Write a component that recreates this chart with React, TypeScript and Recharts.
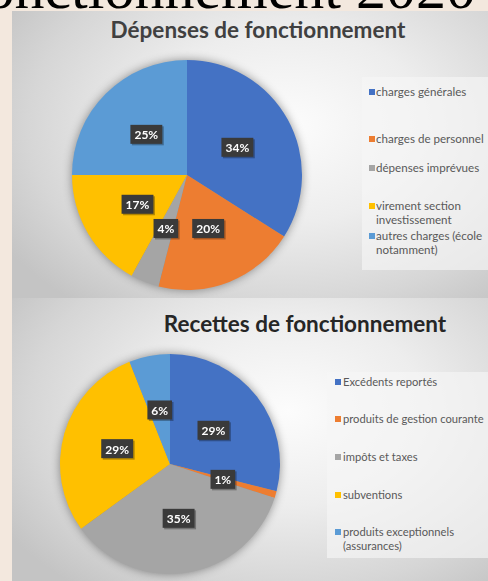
import React from "react";
import { PieChart, Pie, Cell, Legend } from "recharts";

const depensesCategories = [
  "charges générales",
  "charges de personnel",
  "dépenses imprévues",
  "virement section investissement",
  "autres charges (école notamment)",
];
const depensesValues = [34, 20, 4, 17, 25];
const depensesLegendLines = [
  ["charges générales"],
  ["charges de personnel"],
  ["dépenses imprévues"],
  ["virement section", "investissement"],
  ["autres charges (école", "notamment)"],
];

const recettesCategories = [
  "Excédents reportés",
  "produits de gestion courante",
  "impôts et taxes",
  "subventions",
  "produits exceptionnels (assurances)",
];
const recettesValues = [29, 1, 35, 29, 6];
const recettesLegendLines = [
  ["Excédents reportés"],
  ["produits de gestion courante"],
  ["impôts et taxes"],
  ["subventions"],
  ["produits exceptionnels", "(assurances)"],
];

const COLORS = ["#4472C4", "#ED7D31", "#A5A5A5", "#FFC000", "#5B9BD5"];

const depensesData = depensesCategories.map((name, i) => ({ name, value: depensesValues[i] }));
const recettesData = recettesCategories.map((name, i) => ({ name, value: recettesValues[i] }));

const RAD = Math.PI / 180;
const FONT = "Lato, 'Open Sans', sans-serif";
const NO_MARGIN = { top: 0, right: 0, bottom: 0, left: 0 };

const renderLabel = (props: any) => {
  const { cx, cy, midAngle, outerRadius, percent } = props;
  const r = outerRadius * 0.5;
  const x = cx + r * Math.cos(-midAngle * RAD);
  const y = cy + r * Math.sin(-midAngle * RAD);
  const txt = `${Math.round(percent * 100)}%`;
  const w = txt.length * 7.3 + 10;
  const h = 19;
  return (
    <g>
      <rect x={x - w / 2 + 1.5} y={y - h / 2 + 1.5} width={w} height={h} fill="rgba(0,0,0,0.3)" />
      <rect x={x - w / 2} y={y - h / 2} width={w} height={h} fill="#3a3a3a" />
      <text
        x={x}
        y={y + 0.5}
        fill="#ffffff"
        textAnchor="middle"
        dominantBaseline="central"
        fontFamily={FONT}
        fontWeight={700}
        fontSize={12}
      >
        {txt}
      </text>
    </g>
  );
};

const makeLegend = (lines: string[][], tops: number[], boxStyle: any) => () => (
  <div
    style={{
      position: "relative",
      background: "rgba(246,246,246,0.65)",
      fontFamily: FONT,
      fontSize: boxStyle.fontSize,
      color: "#595959",
      width: boxStyle.width,
      height: boxStyle.height,
    }}
  >
    {lines.map((ls, i) => (
      <div key={i} style={{ position: "absolute", left: 0, top: tops[i] - 7, lineHeight: "14px", whiteSpace: "nowrap" }}>
        <span
          style={{
            position: "absolute",
            left: boxStyle.sqLeft,
            top: 4,
            width: 6,
            height: 6,
            background: COLORS[i],
          }}
        />
        {ls.map((l, j) => (
          <div key={j} style={{ paddingLeft: boxStyle.textLeft }}>
            {l}
          </div>
        ))}
      </div>
    ))}
  </div>
);

const panelBg =
  "radial-gradient(ellipse 70% 80% at 58% 40%, #fcfcfc 0%, #ededed 42%, #d6d6d6 78%, #c4c4c4 100%)";

export default function App() {
  return (
    <div style={{ position: "relative", width: 488, height: 581, background: "#f3e8de", overflow: "hidden" }}>
      <style>{`body{margin:0} .pie-wrap svg.recharts-surface{filter:drop-shadow(0 0 5px rgba(0,0,0,0.4));}`}</style>
      <div style={{ position: "absolute", left: 0, top: 0, width: 488, height: 11, overflow: "hidden" }}>
        <div
          style={{
            position: "absolute",
            right: 12,
            top: -17,
            fontFamily: "'Liberation Serif', 'Times New Roman', 'DejaVu Serif', serif",
            fontSize: 60,
            lineHeight: "11px",
            whiteSpace: "nowrap",
            color: "#000",
          }}
        >
          Budget de fonctionnement 2020
        </div>
      </div>

      {/* Panel 1 */}
      <div className="pie-wrap" style={{ position: "absolute", left: 12, top: 11, width: 476, height: 287, background: panelBg }}>
        <div
          style={{
            position: "absolute",
            left: 0,
            width: 476,
            top: 5,
            textAlign: "center",
            paddingLeft: 16,
            boxSizing: "border-box",
            fontFamily: FONT,
            fontWeight: 700,
            fontSize: 22.5,
            lineHeight: "27px",
            color: "#404040",
          }}
        >
          Dépenses de fonctionnement
        </div>
        <PieChart width={476} height={287} margin={NO_MARGIN} style={{ position: "absolute", left: 0, top: 0 }}>
          <Pie
            data={depensesData}
            dataKey="value"
            nameKey="name"
            cx={175}
            cy={164}
            outerRadius={115}
            startAngle={90}
            endAngle={-270}
            stroke="none"
            labelLine={false}
            label={renderLabel}
            isAnimationActive={false}
          >
            {depensesData.map((d, i) => (
              <Cell key={d.name} fill={COLORS[i]} />
            ))}
          </Pie>
          <Legend
            content={makeLegend(depensesLegendLines, [15, 62, 91, 129, 159], {
              width: 126,
              height: 193,
              sqLeft: 7,
              textLeft: 14,
              fontSize: 11.6,
            })}
            wrapperStyle={{ position: "absolute", left: 350, top: 66, width: 126, height: 193 }}
          />
        </PieChart>
      </div>

      {/* Panel 2 */}
      <div className="pie-wrap" style={{ position: "absolute", left: 12, top: 298, width: 476, height: 283, background: panelBg }}>
        <div
          style={{
            position: "absolute",
            left: 0,
            width: 476,
            top: 12,
            textAlign: "center",
            paddingLeft: 110,
            boxSizing: "border-box",
            fontFamily: FONT,
            fontWeight: 700,
            fontSize: 22.5,
            lineHeight: "27px",
            color: "#262626",
          }}
        >
          Recettes de fonctionnement
        </div>
        <PieChart width={476} height={283} margin={NO_MARGIN} style={{ position: "absolute", left: 0, top: 0 }}>
          <Pie
            data={recettesData}
            dataKey="value"
            nameKey="name"
            cx={158}
            cy={166}
            outerRadius={110}
            startAngle={90}
            endAngle={-270}
            stroke="none"
            labelLine={false}
            label={renderLabel}
            isAnimationActive={false}
          >
            {recettesData.map((d, i) => (
              <Cell key={d.name} fill={COLORS[i]} />
            ))}
          </Pie>
          <Legend
            content={makeLegend(recettesLegendLines, [10, 47, 85, 123, 160], {
              width: 161,
              height: 186,
              sqLeft: 8,
              textLeft: 16,
              fontSize: 11.2,
            })}
            wrapperStyle={{ position: "absolute", left: 315, top: 74, width: 161, height: 186 }}
          />
        </PieChart>
      </div>
    </div>
  );
}
